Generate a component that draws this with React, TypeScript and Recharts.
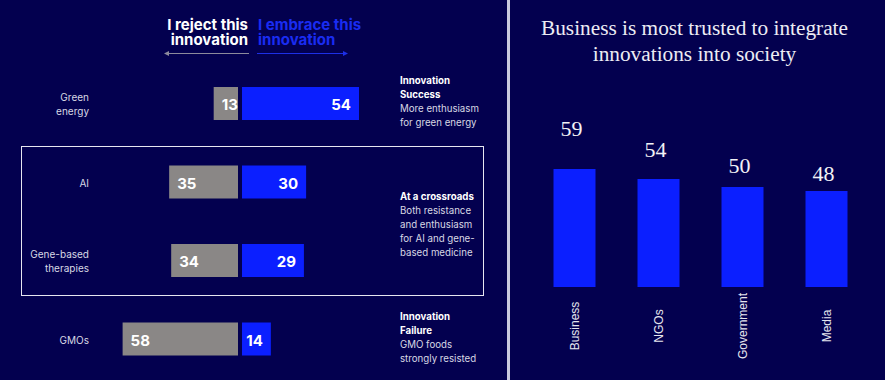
import React from 'react';
import { BarChart, Bar, XAxis, YAxis, LabelList, ComposedChart, Line } from 'recharts';

// ---------- data ----------
const innovations = ['Green energy', 'AI', 'Gene-based therapies', 'GMOs'];
const rejectValues = [13, 35, 34, 58];
const embraceValues = [54, 30, 29, 14];

const institutions = ['Business', 'NGOs', 'Government', 'Media'];
const trustValues = [59, 54, 50, 48];

const headerReject = ['I reject this', 'innovation'];
const headerEmbrace = ['I embrace this', 'innovation'];
const noteSuccess = { bold: ['Innovation', 'Success'], body: ['More enthusiasm', 'for green energy'] };
const noteCrossroads = { bold: ['At a crossroads'], body: ['Both resistance', 'and enthusiasm', 'for AI and gene-', 'based medicine'] };
const noteFailure = { bold: ['Innovation', 'Failure'], body: ['GMO foods', 'strongly resisted'] };
const titleLines = ['Business is most trusted to integrate', 'innovations into society'];

// ---------- styles ----------
const BG = '#03004f';
const BLUE = '#0b1fff';
const GRAY = '#8a8786';
const SANS = 'Inter, "Noto Sans", sans-serif';

const leftRows = innovations.map((name, i) => ({ name, reject: -rejectValues[i], embrace: embraceValues[i] }));
const rightRows = institutions.map((name, i) => ({ name, value: trustValues[i] }));

const RejShape = (p: any) => {
  const l = Math.min(p.x, p.x + p.width);
  const r = Math.max(p.x, p.x + p.width);
  return <rect x={l} y={p.y} width={Math.max(0, r - l - 2)} height={p.height} fill={GRAY} />;
};
const EmbShape = (p: any) => {
  const l = Math.min(p.x, p.x + p.width);
  const r = Math.max(p.x, p.x + p.width);
  return <rect x={l + 2} y={p.y} width={Math.max(0, r - l - 2)} height={p.height} fill={BLUE} />;
};

const RejLabel = (props: any) => {
  const v = props.viewBox || props;
  const l = Math.min(v.x, v.x + v.width);
  return (
    <text x={l + 8} y={v.y + v.height / 2 + 1} textAnchor="start" dominantBaseline="central"
      fill="#ffffff" fontFamily={SANS} fontWeight={700} fontSize={15}>
      {Math.abs(Number(props.value))}
    </text>
  );
};
const EmbLabel = (props: any) => {
  const v = props.viewBox || props;
  const r = Math.max(v.x, v.x + v.width);
  return (
    <text x={r - 8} y={v.y + v.height / 2 + 1} textAnchor="end" dominantBaseline="central"
      fill="#ffffff" fontFamily={SANS} fontWeight={700} fontSize={15}>
      {Math.abs(Number(props.value))}
    </text>
  );
};

const CatTick = (props: any) => {
  const { x, y, payload } = props;
  const words: string[] = String(payload.value).split(' ');
  const lh = 14;
  const start = y + 1 - ((words.length - 1) * lh) / 2;
  return (
    <text textAnchor="end" fill="#d8d8e4" fontFamily={SANS} fontSize={10}>
      {words.map((w, i) => (
        <tspan key={i} x={x - 1} y={start + i * lh} dominantBaseline="central">{w}</tspan>
      ))}
    </text>
  );
};

const RotTick = (props: any) => {
  const { x, y, payload } = props;
  return (
    <text transform={`translate(${x},${y + 39}) rotate(-90)`} textAnchor="middle" dominantBaseline="central"
      fill="#e6e6ee" fontFamily='"Liberation Sans", Arial, sans-serif' fontSize={12}>
      {payload.value}
    </text>
  );
};

const TopLabel = (props: any) => {
  const v = props.viewBox || props;
  return (
    <text x={v.x - 3} y={v.y} textAnchor="middle" fill="#f2f2f6"
      fontFamily='"Liberation Serif", "Times New Roman", serif' fontSize={22}>
      {props.value}
    </text>
  );
};

const Note = ({ note, top }: { note: { bold: string[]; body: string[] }; top: number }) => (
  <div style={{ position: 'absolute', left: 400, top, fontFamily: SANS, fontSize: 9.7, lineHeight: '14px', whiteSpace: 'nowrap' }}>
    {note.bold.map((t, i) => (
      <div key={'b' + i} style={{ color: '#ffffff', fontWeight: 700 }}>{t}</div>
    ))}
    {note.body.map((t, i) => (
      <div key={'n' + i} style={{ color: '#d8d8e4' }}>{t}</div>
    ))}
  </div>
);

export default function App() {
  return (
    <div style={{ position: 'absolute', left: 0, top: 0, width: 885, height: 380, background: BG, overflow: 'hidden' }}>
      {/* left panel */}
      <div style={{ position: 'absolute', left: 0, top: 0 }}>
        <BarChart width={507} height={380} layout="vertical" data={leftRows}
          margin={{ top: 64, right: 117, bottom: 2, left: 0 }}>
          <XAxis xAxisId="rej" type="number" domain={[-69.17, 74.11]} hide allowDataOverflow />
          <XAxis xAxisId="emb" type="number" domain={[-63.52, 68.06]} hide allowDataOverflow />
          <YAxis type="category" dataKey="name" width={100} axisLine={false} tickLine={false}
            tickSize={0} tickMargin={10} interval={0} tick={<CatTick />} />
          <Bar xAxisId="rej" dataKey="reject" stackId="s" barSize={33} fill={GRAY} shape={RejShape} isAnimationActive={false}>
            <LabelList dataKey="reject" content={RejLabel} />
          </Bar>
          <Bar xAxisId="emb" dataKey="embrace" stackId="s" barSize={33} fill={BLUE} shape={EmbShape} isAnimationActive={false}>
            <LabelList dataKey="embrace" content={EmbLabel} />
          </Bar>
        </BarChart>
      </div>

      {/* header */}
      <div style={{ position: 'absolute', right: 885 - 248, top: 16.5, textAlign: 'right', fontFamily: SANS, fontWeight: 700,
        fontSize: 15, lineHeight: '15px', color: '#ffffff', whiteSpace: 'nowrap' }}>
        {headerReject.map((t, i) => <div key={i}>{t}</div>)}
      </div>
      <div style={{ position: 'absolute', left: 258, top: 16.5, textAlign: 'left', fontFamily: SANS, fontWeight: 700,
        fontSize: 15, lineHeight: '15px', color: '#1a2cf2', whiteSpace: 'nowrap' }}>
        {headerEmbrace.map((t, i) => <div key={i}>{t}</div>)}
      </div>
      <svg style={{ position: 'absolute', left: 0, top: 0 }} width={885} height={380}>
        <line x1={166} y1={53.5} x2={249} y2={53.5} stroke="#8c8a9c" strokeWidth={1} />
        <polygon points="164,53.5 169,51 169,56" fill="#8c8a9c" />
        <line x1={257} y1={53.5} x2={345} y2={53.5} stroke="#1d2fe6" strokeWidth={1} />
        <polygon points="348,53.5 343,51 343,56" fill="#1d2fe6" />
      </svg>

      {/* highlight box */}
      <div style={{ position: 'absolute', left: 20.5, top: 145.5, width: 463, height: 150, border: '1.5px solid #e6e6f0', boxSizing: 'border-box' }} />

      {/* annotations */}
      <Note note={noteSuccess} top={74} />
      <Note note={noteCrossroads} top={190} />
      <Note note={noteFailure} top={310} />

      {/* divider */}
      <div style={{ position: 'absolute', left: 507, top: 0, width: 3, height: 380, background: '#cacade' }} />

      {/* right panel */}
      <div style={{ position: 'absolute', left: 507, top: 15, width: 375, textAlign: 'center',
        fontFamily: '"Liberation Serif", "Times New Roman", serif', fontSize: 21.3, lineHeight: '26px', color: '#ececf4' }}>
        {titleLines.map((t, i) => <div key={i}>{t}</div>)}
      </div>
      <div style={{ position: 'absolute', left: 510, top: 0 }}>
        <ComposedChart width={375} height={380} data={rightRows} margin={{ top: 87, right: 16.5, bottom: 0, left: 22.5 }}>
          <XAxis dataKey="name" height={93} axisLine={false} tickLine={false} tickSize={0} tickMargin={0}
            interval={0} tick={<RotTick />} />
          <YAxis yAxisId="v" domain={[0, 100]} hide />
          <YAxis yAxisId="lbl" domain={[22.1, 71]} hide allowDataOverflow />
          <Bar yAxisId="v" dataKey="value" fill={BLUE} barSize={42} isAnimationActive={false} />
          <Line yAxisId="lbl" dataKey="value" stroke="none" dot={false} activeDot={false} isAnimationActive={false}>
            <LabelList dataKey="value" content={TopLabel} />
          </Line>
        </ComposedChart>
      </div>
    </div>
  );
}
